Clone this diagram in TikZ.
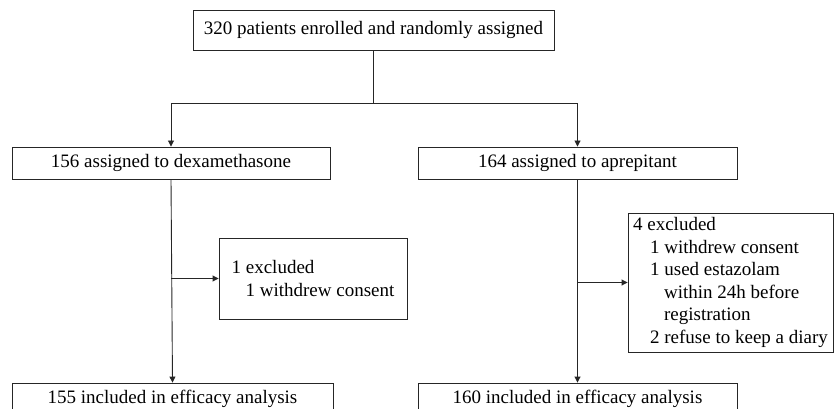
\documentclass[tikz,border=0pt]{standalone}
\usepackage{fontspec}
\setmainfont{Liberation Serif}
\usetikzlibrary{arrows.meta,positioning,calc}
\tikzset{
  box/.style={draw=black!85, line width=0.9pt, inner sep=3pt, minimum height=32pt},
  exbox/.style={box, align=left},
  link/.style={line width=0.9pt, draw=black!85},
  arrow/.style={link, -{Triangle[length=6pt,width=6pt]}},
}

\begin{document}
\begin{tikzpicture}[x=1pt,y=-1pt,font=\fontsize{19}{22.6}\selectfont]
  \useasboundingbox (0,0) rectangle (835,409);
  \clip (0,0) rectangle (835,409);
  \node[box, minimum width=361pt, minimum height=40pt] (enrol) at (373.5,30) {320 patients enrolled and randomly assigned};
  \node[box, minimum width=318pt] (dexa) at (171,163) {156 assigned to dexamethasone};
  \node[box, minimum width=319pt] (aprep) at (577.5,163) {164 assigned to aprepitant};
  \node[exbox, minimum width=188pt, minimum height=81pt] (exdexa) at (313,278.5)
    {1 excluded\\\hspace*{14pt}1 withdrew consent};
  \node[exbox, minimum width=205pt, minimum height=139pt] (exaprep) at (730.5,282.5)
    {4 excluded\\
     \hspace*{17pt}1 withdrew consent\\
     \hspace*{17pt}1 used estazolam\\
     \hspace*{31pt}within 24h before\\
     \hspace*{31pt}registration\\
     \hspace*{17pt}2 refuse to keep a diary};
  \node[box, minimum width=321pt] (effdexa) at (172.5,399) {155 included in efficacy analysis};
  \node[box, minimum width=319pt] (effaprep) at (577.5,399) {160 included in efficacy analysis};

  \coordinate (split) at (enrol.south |- 0,103);
  \draw[link] (enrol.south) -- (split);
  \draw[arrow] (split) -| (dexa.north);
  \draw[arrow] (split) -| (aprep.north);
  \draw[arrow] (dexa.south) -- (effdexa.north);
  \draw[arrow] (aprep.south) -- (effaprep.north);
  \draw[arrow] (dexa.south |- exdexa.west) -- (exdexa.west);
  \draw[arrow] (aprep.south |- exaprep.west) -- (exaprep.west);
\end{tikzpicture}
\end{document}
